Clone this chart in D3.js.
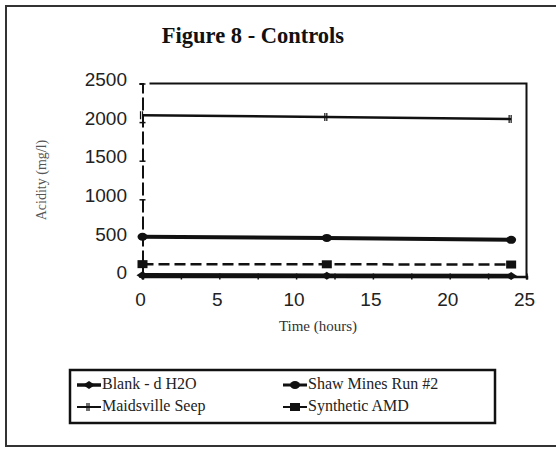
<!DOCTYPE html>
<html><head><meta charset="utf-8">
<script src="https://cdn.jsdelivr.net/npm/d3@7"></script>
<style>body{margin:0;background:#fff}svg{display:block}</style>
</head><body>
<svg id="c" width="556" height="449"></svg>
<script>
const times = [0, 12, 24];
const seriesNames = ["Blank - d H2O", "Shaw Mines Run #2", "Maidsville Seep", "Synthetic AMD"];
const blank = [15, 10, 5];
const shaw = [515, 500, 475];
const maidsville = [2090, 2065, 2040];
const synthetic = [160, 158, 155];
const xTicks = [0, 5, 10, 15, 20, 25];
const yTicks = [0, 500, 1000, 1500, 2000, 2500];

const svg = d3.select("#c");
const x = d3.scaleLinear().domain([0, 25]).range([142.5, 526.5]);
const y = d3.scaleLinear().domain([0, 2500]).range([276.5, 83.5]);
const ink = "#111";
const serif = "'Liberation Serif', 'Times New Roman', serif";
const sans = "'Liberation Sans', Arial, sans-serif";

// outer frame
svg.append("path").attr("d", "M600,6 H6 V446 H600").attr("fill", "none")
  .attr("stroke", "#333").attr("stroke-width", 2);

// title
svg.append("text").attr("x", 253).attr("y", 43).attr("text-anchor", "middle")
  .attr("font-family", serif).attr("font-weight", "bold").attr("font-size", 22.5)
  .attr("fill", ink).text("Figure 8 - Controls");

// plot frame top + right
svg.append("path").attr("d", `M${x(0)+7},${y(2500)} H${x(25)} V${y(0)}`).attr("fill", "none")
  .attr("stroke", ink).attr("stroke-width", 2);

// x axis
const xAxis = svg.append("g").attr("transform", `translate(0,${y(0)})`)
  .call(d3.axisBottom(x).tickValues(d3.range(0, 25.1, 2.5)).tickSize(3).tickFormat(""));
xAxis.select(".domain").attr("stroke", ink).attr("stroke-width", 2.5);
xAxis.selectAll(".tick line").attr("stroke", ink).attr("stroke-width", 1.5).attr("y1", -3);
svg.append("g").selectAll("text").data(xTicks).join("text")
  .attr("x", d => x(d) - 2).attr("y", 306).attr("text-anchor", "middle")
  .attr("font-family", sans).attr("font-size", 19).attr("fill", "#222")
  .text(d => d);

// y axis (dashed as in the scan)
const yAxis = svg.append("g").attr("transform", `translate(${x(0)},0)`)
  .call(d3.axisLeft(y).tickValues(yTicks).tickSize(3).tickFormat(""));
yAxis.select(".domain").attr("stroke", ink).attr("stroke-width", 2).attr("stroke-dasharray", "13,4");
yAxis.selectAll(".tick line").attr("stroke", ink).attr("stroke-width", 1.5).attr("x2", 3).attr("x1", -3);
svg.append("g").selectAll("text").data(yTicks).join("text")
  .attr("x", 127).attr("y", d => y(d) - 4).attr("dy", "0.35em").attr("text-anchor", "end")
  .attr("font-family", sans).attr("font-size", 19).attr("fill", "#222")
  .text(d => d);

// axis titles
svg.append("text").attr("x", 318).attr("y", 331).attr("text-anchor", "middle")
  .attr("font-family", serif).attr("font-size", 15).attr("fill", "#333").text("Time (hours)");
svg.append("text").attr("transform", "translate(46,180) rotate(-90)").attr("text-anchor", "middle")
  .attr("font-family", serif).attr("font-size", 14).attr("fill", "#555").text("Acidity (mg/l)");

const line = d3.line().x((d, i) => x(times[i])).y(d => y(d));
const styles = [
  {data: blank, w: 4.5, dash: null, marker: "diamond"},
  {data: shaw, w: 4, dash: null, marker: "circle"},
  {data: maidsville, w: 2.5, dash: null, marker: "cross"},
  {data: synthetic, w: 2.5, dash: "11,5", marker: "square"}
];

function drawMarker(g, type, cx, cy) {
  if (type === "diamond") g.append("path").attr("d", `M${cx-6},${cy} L${cx},${cy-4} L${cx+6},${cy} L${cx},${cy+4}Z`).attr("fill", ink);
  else if (type === "circle") g.append("ellipse").attr("cx", cx).attr("cy", cy).attr("rx", 5).attr("ry", 4).attr("fill", ink);
  else if (type === "cross") {
    g.append("path").attr("d", `M${cx},${cy-4} V${cy+4} M${cx-2},${cy-4} V${cy+4}`).attr("stroke", ink).attr("stroke-width", 1.2);
  } else if (type === "square") g.append("rect").attr("x", cx-5).attr("y", cy-4).attr("width", 10).attr("height", 8).attr("fill", ink);
}

styles.forEach(s => {
  svg.append("path").attr("d", line(s.data)).attr("fill", "none").attr("stroke", ink)
    .attr("stroke-width", s.w).attr("stroke-dasharray", s.dash);
  const g = svg.append("g");
  s.data.forEach((v, i) => drawMarker(g, s.marker, x(times[i]), y(v)));
});

// legend
svg.append("rect").attr("x", 70).attr("y", 370).attr("width", 425).attr("height", 53)
  .attr("fill", "none").attr("stroke", ink).attr("stroke-width", 2.5);
const legPos = [[77, 383], [283, 383], [77, 405], [283, 405]];
seriesNames.forEach((n, i) => {
  const [lx, ly] = legPos[i];
  const s = styles[i];
  svg.append("line").attr("x1", lx).attr("x2", lx + 24).attr("y1", ly + 2).attr("y2", ly + 2)
    .attr("stroke", ink).attr("stroke-width", Math.max(2, s.w - 1));
  drawMarker(svg, s.marker, lx + 12, ly + 2);
  svg.append("text").attr("x", lx + 25).attr("y", ly).attr("dy", "0.35em")
    .attr("font-family", serif).attr("font-size", 16).attr("fill", "#222").text(n);
});
</script>
</body></html>
